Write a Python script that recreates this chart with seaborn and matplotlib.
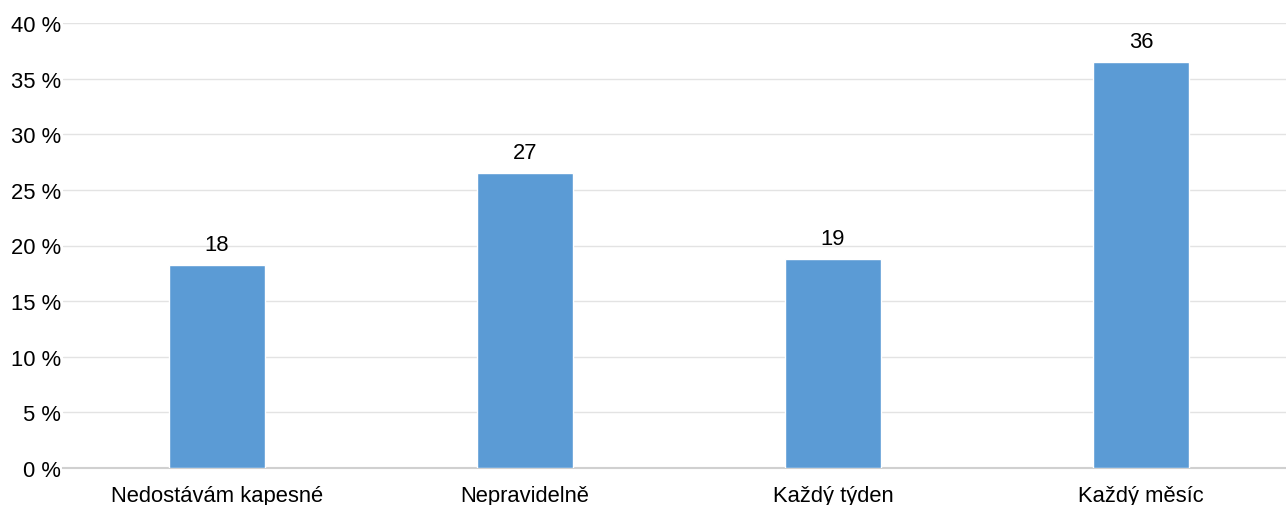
import matplotlib
matplotlib.use("Agg")
import matplotlib.pyplot as plt
import pandas as pd
import seaborn as sns

categories = ["Nedostávám kapesné", "Nepravidelně", "Každý týden", "Každý měsíc"]
values = [18.25, 26.5, 18.8, 36.5]
value_labels = ["18", "27", "19", "36"]
y_ticks = [0, 5, 10, 15, 20, 25, 30, 35, 40]

sns.set_style("white")
plt.rcParams["font.family"] = ["Liberation Sans", "DejaVu Sans"]

df = pd.DataFrame({"category": categories, "value": values})

fig = plt.figure(figsize=(12.86, 5.06), dpi=100)
ax = fig.add_axes([63 / 1286, 1 - 469 / 506, 1223 / 1286, 445 / 506])

sns.barplot(data=df, x="category", y="value", color="#5B9BD5", saturation=1,
            width=0.31, ax=ax, zorder=3)

for i, (v, lab) in enumerate(zip(values, value_labels)):
    ax.annotate(lab, (i, v), xytext=(0, 7), textcoords="offset points",
                ha="center", va="bottom", fontsize=15.8, color="black")

ax.set_ylim(0, 40)
ax.set_xlim(-0.5, -0.5 + 1223 / 308)
ax.set_yticks(y_ticks)
ax.set_yticklabels([f"{t} %" for t in y_ticks])
ax.grid(axis="y", color="#e3e3e3", linewidth=1, zorder=0)
ax.set_xlabel("")
ax.set_ylabel("")
for s in ["top", "right", "left"]:
    ax.spines[s].set_visible(False)
ax.spines["bottom"].set_color("#d0d0d0")
ax.spines["bottom"].set_linewidth(1.5)
ax.tick_params(axis="both", length=0, labelsize=15.8, colors="black")
ax.tick_params(axis="x", pad=12)
ax.tick_params(axis="y", pad=1.5)

fig.savefig("out.png", dpi=100)
